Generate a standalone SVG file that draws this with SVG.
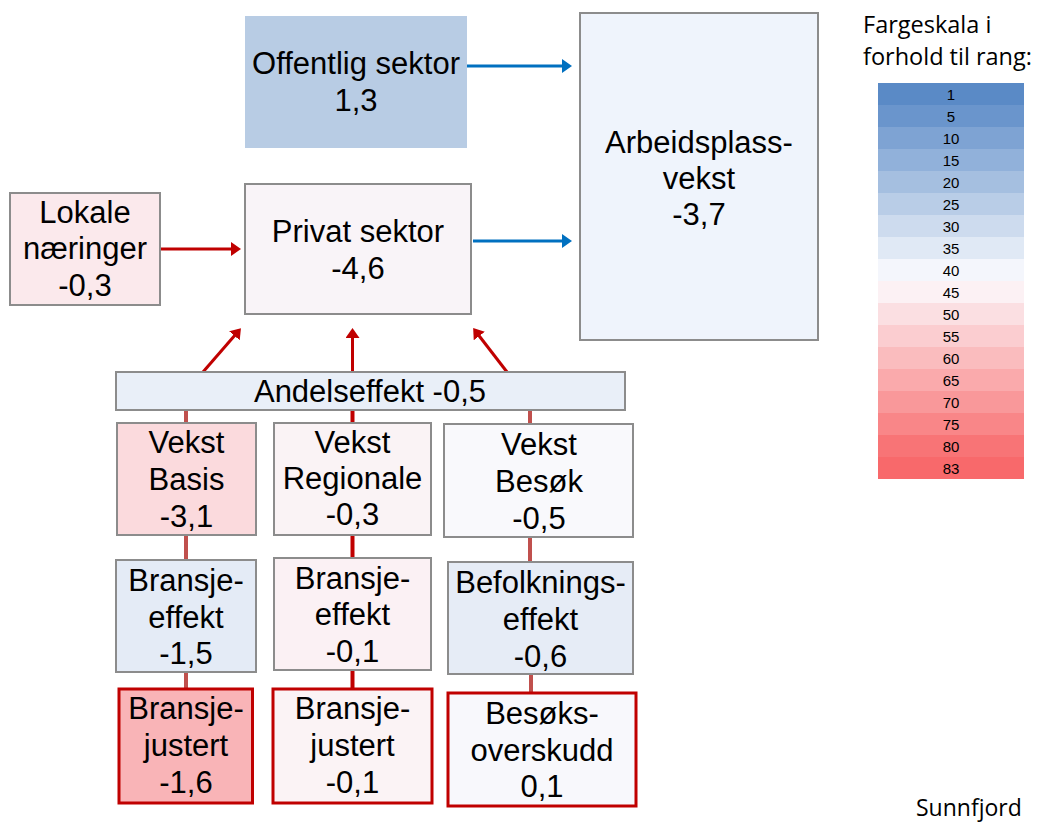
<svg xmlns="http://www.w3.org/2000/svg" width="1038" height="822" viewBox="0 0 1038 822">
<style>
.b{stroke:#8c8c8c;stroke-width:2}
.r{stroke:#c00000;stroke-width:3}
.t{font-family:"Liberation Sans",Arial,sans-serif;font-size:31px;fill:#000;text-anchor:middle}
.s{font-family:"Open Sans",sans-serif;fill:#000}
.l{font-family:"Liberation Sans",Arial,sans-serif;font-size:15px;fill:#000;text-anchor:middle}
.ab{stroke:#0070c0;stroke-width:3;fill:none}
.ar{stroke:#c00000;stroke-width:3;fill:none}
.cm{stroke:#c0504d;stroke-width:4}
.cd{stroke:#c00000;stroke-width:4}
</style>
<defs>
<marker id="mb" markerUnits="userSpaceOnUse" markerWidth="11" markerHeight="14" refX="7" refY="7" orient="auto"><path d="M0,0 L10,7 L0,14 z" fill="#0070c0"/></marker>
<marker id="mr" markerUnits="userSpaceOnUse" markerWidth="11" markerHeight="14" refX="7" refY="7" orient="auto"><path d="M0,0 L10,7 L0,14 z" fill="#c00000"/></marker>
</defs>
<rect width="1038" height="822" fill="#fff"/>

<g id="connectors">
<line class="ab" x1="467" y1="66" x2="569" y2="66" marker-end="url(#mb)"/>
<line class="ab" x1="473" y1="241" x2="569" y2="241" marker-end="url(#mb)"/>
<line class="ar" x1="160" y1="249" x2="238" y2="249" marker-end="url(#mr)"/>
<line class="ar" x1="203" y1="372" x2="239" y2="330.5" marker-end="url(#mr)"/>
<line class="ar" x1="352.5" y1="372" x2="352.5" y2="331" marker-end="url(#mr)"/>
<line class="ar" x1="507" y1="372" x2="475" y2="330.5" marker-end="url(#mr)"/>
<line class="cm" x1="186" y1="410" x2="186" y2="423"/>
<line class="cm" x1="186" y1="535" x2="186" y2="560"/>
<line class="cm" x1="186" y1="672" x2="186" y2="689"/>
<line class="cd" x1="352.5" y1="410" x2="352.5" y2="423"/>
<line class="cd" x1="352.5" y1="535" x2="352.5" y2="558"/>
<line class="cd" x1="352.5" y1="670" x2="352.5" y2="689"/>
<line class="cm" x1="530" y1="410" x2="530" y2="424"/>
<line class="cm" x1="530" y1="537" x2="530" y2="562"/>
<line class="cm" x1="531" y1="674" x2="531" y2="693"/>
</g>

<g id="offentlig">
<rect x="245" y="16" width="222" height="132" fill="#b8cce4"/>
<text class="t" x="356" y="74">Offentlig sektor</text>
<text class="t" x="356" y="111">1,3</text>
</g>
<g id="privat">
<rect class="b" x="245" y="184" width="226" height="130" fill="#f9f4f8"/>
<text class="t" x="358" y="242">Privat sektor</text>
<text class="t" x="358" y="279">-4,6</text>
</g>
<g id="lokale">
<rect class="b" x="10" y="193" width="150" height="112" fill="#fbe9ec"/>
<text class="t" x="85" y="223">Lokale</text>
<text class="t" x="85" y="259">næringer</text>
<text class="t" x="85" y="296">-0,3</text>
</g>
<g id="arbeidsplass">
<rect class="b" x="580" y="13" width="238" height="327" fill="#eff4fc"/>
<text class="t" x="699" y="153">Arbeidsplass-</text>
<text class="t" x="699" y="189">vekst</text>
<text class="t" x="699" y="225">-3,7</text>
</g>
<g id="andelseffekt">
<rect class="b" x="116" y="372" width="509" height="38" fill="#e9eff8"/>
<text class="t" x="370" y="402">Andelseffekt -0,5</text>
</g>
<g id="vekst-basis">
<rect class="b" x="117" y="423" width="139" height="112" fill="#fbdadd"/>
<text class="t" x="186.5" y="453">Vekst</text>
<text class="t" x="186.5" y="490">Basis</text>
<text class="t" x="186.5" y="527">-3,1</text>
</g>
<g id="vekst-regionale">
<rect class="b" x="274" y="423" width="157" height="112" fill="#faf3f5"/>
<text class="t" x="352.5" y="453">Vekst</text>
<text class="t" x="352.5" y="489">Regionale</text>
<text class="t" x="352.5" y="525">-0,3</text>
</g>
<g id="vekst-besok">
<rect class="b" x="444" y="424" width="189" height="113" fill="#f9f9fc"/>
<text class="t" x="539" y="455">Vekst</text>
<text class="t" x="539" y="492">Besøk</text>
<text class="t" x="539" y="529">-0,5</text>
</g>
<g id="bransjeeffekt-1">
<rect class="b" x="116" y="560" width="140" height="112" fill="#e4ebf6"/>
<text class="t" x="186" y="591">Bransje-</text>
<text class="t" x="186" y="628">effekt</text>
<text class="t" x="186" y="664">-1,5</text>
</g>
<g id="bransjeeffekt-2">
<rect class="b" x="274" y="558" width="157" height="112" fill="#fbf1f4"/>
<text class="t" x="352.5" y="589">Bransje-</text>
<text class="t" x="352.5" y="625">effekt</text>
<text class="t" x="352.5" y="662">-0,1</text>
</g>
<g id="befolkningseffekt">
<rect class="b" x="448" y="562" width="185" height="112" fill="#e6ecf6"/>
<text class="t" x="540.5" y="593">Befolknings-</text>
<text class="t" x="540.5" y="630">effekt</text>
<text class="t" x="540.5" y="667">-0,6</text>
</g>
<g id="bransjejustert-1">
<rect class="r" x="119" y="689" width="133.5" height="114" fill="#f9b4b7"/>
<text class="t" x="186" y="719">Bransje-</text>
<text class="t" x="186" y="756">justert</text>
<text class="t" x="186" y="793">-1,6</text>
</g>
<g id="bransjejustert-2">
<rect class="r" x="273" y="689" width="159" height="114" fill="#fbf3f5"/>
<text class="t" x="352.5" y="719">Bransje-</text>
<text class="t" x="352.5" y="756">justert</text>
<text class="t" x="352.5" y="793">-0,1</text>
</g>
<g id="besoksoverskudd">
<rect class="r" x="448" y="693" width="188" height="113" fill="#f8f8fc"/>
<text class="t" x="542" y="724">Besøks-</text>
<text class="t" x="542" y="761">overskudd</text>
<text class="t" x="542" y="797">0,1</text>
</g>

<g id="legend">
<text class="s" x="863" y="33" font-size="23.5">Fargeskala i</text>
<text class="s" x="863" y="65" font-size="23.5">forhold til rang:</text>
<rect x="878" y="83" width="146" height="22" fill="#5a8ac6"/>
<rect x="878" y="105" width="146" height="22" fill="#6a95cc"/>
<rect x="878" y="127" width="146" height="22" fill="#7ea3d3"/>
<rect x="878" y="149" width="146" height="22" fill="#91b1da"/>
<rect x="878" y="171" width="146" height="22" fill="#a5bfe0"/>
<rect x="878" y="193" width="146" height="22" fill="#b9cde7"/>
<rect x="878" y="215" width="146" height="22" fill="#cddbee"/>
<rect x="878" y="237" width="146" height="22" fill="#e0e9f5"/>
<rect x="878" y="259" width="146" height="22" fill="#f4f6fc"/>
<rect x="878" y="281" width="146" height="22" fill="#fcf1f4"/>
<rect x="878" y="303" width="146" height="22" fill="#fbdfe2"/>
<rect x="878" y="325" width="146" height="22" fill="#fbcdd0"/>
<rect x="878" y="347" width="146" height="22" fill="#fabcbe"/>
<rect x="878" y="369" width="146" height="22" fill="#faaaac"/>
<rect x="878" y="391" width="146" height="22" fill="#f9989a"/>
<rect x="878" y="413" width="146" height="22" fill="#f98688"/>
<rect x="878" y="435" width="146" height="22" fill="#f87476"/>
<rect x="878" y="457" width="146" height="22" fill="#f8696b"/>
<text class="l" x="951" y="100">1</text>
<text class="l" x="951" y="122">5</text>
<text class="l" x="951" y="144">10</text>
<text class="l" x="951" y="166">15</text>
<text class="l" x="951" y="188">20</text>
<text class="l" x="951" y="210">25</text>
<text class="l" x="951" y="232">30</text>
<text class="l" x="951" y="254">35</text>
<text class="l" x="951" y="276">40</text>
<text class="l" x="951" y="298">45</text>
<text class="l" x="951" y="320">50</text>
<text class="l" x="951" y="342">55</text>
<text class="l" x="951" y="364">60</text>
<text class="l" x="951" y="386">65</text>
<text class="l" x="951" y="408">70</text>
<text class="l" x="951" y="430">75</text>
<text class="l" x="951" y="452">80</text>
<text class="l" x="951" y="474">83</text>
</g>
<text id="region" class="s" x="916" y="816" font-size="23">Sunnfjord</text>
</svg>
